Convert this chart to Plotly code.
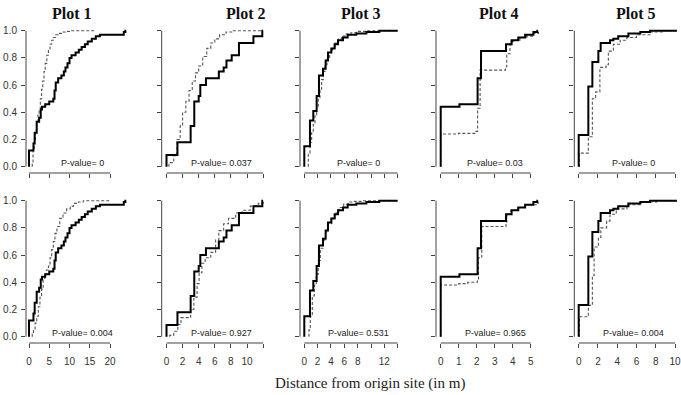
import plotly.graph_objects as go

W, H = 681, 395

# ---------------- data ----------------
titles = ["Plot 1", "Plot 2", "Plot 3", "Plot 4", "Plot 5"]
pvals_top = ["P-value= 0", "P-value= 0.037", "P-value= 0", "P-value= 0.03", "P-value= 0"]
pvals_bot = ["P-value= 0.004", "P-value= 0.927", "P-value= 0.531", "P-value= 0.965", "P-value= 0.004"]
x_ticks = [[0, 5, 10, 15, 20],
           [0, 2, 4, 6, 8, 10, 12],
           [0, 2, 4, 6, 8, 10, 12, 14],
           [0, 1, 2, 3, 4, 5],
           [0, 2, 4, 6, 8, 10]]
x_ticktext = [["0", "5", "10", "15", "20"],
              ["0", "2", "4", "6", "8", "10", ""],
              ["0", "2", "4", "6", "8", "", "12", ""],
              ["0", "1", "2", "3", "4", "5"],
              ["0", "2", "4", "6", "8", "10"]]
y_ticks = [0, 0.2, 0.4, 0.6, 0.8, 1.0]
x_end = [24.0, 12.0, 14.0, 5.4, 10.2]           # last x of observed curve
dash_end_top = [16.3, 12.0, 14.0, 5.43, 10.2]
dash_end_bot = [20.0, 12.0, 14.0, 5.4, 10.2]

# observed (solid) step curves, same in both rows
p1_obs_x = [0, 1.1, 1.4, 1.9, 2.5, 2.9, 3.2, 4.0, 5.0, 6.0, 6.3, 6.6, 7.2, 8.0, 8.6, 9.0, 9.5, 10.0, 10.5, 11.5, 12.3, 13.0, 13.8, 14.5, 15.5, 16.5, 17.5, 23.4, 23.8]
p1_obs_y = [0.12, 0.17, 0.25, 0.33, 0.36, 0.42, 0.44, 0.46, 0.48, 0.50, 0.56, 0.62, 0.65, 0.67, 0.70, 0.73, 0.76, 0.80, 0.82, 0.84, 0.86, 0.88, 0.90, 0.92, 0.94, 0.96, 0.97, 0.99, 1.0]
p2_obs_x = [0, 1.36, 3.0, 3.45, 4.0, 4.2, 4.9, 6.5, 7.1, 7.45, 8.1, 9.0, 10.8, 11.9]
p2_obs_y = [0.086, 0.18, 0.30, 0.48, 0.52, 0.60, 0.65, 0.70, 0.73, 0.78, 0.82, 0.91, 0.96, 1.0]
p3_obs_x = [0, 0.85, 1.35, 1.85, 2.2, 2.8, 3.2, 3.55, 4.05, 4.55, 5.05, 5.8, 6.5, 7.8, 9.3, 11.25]
p3_obs_y = [0.15, 0.34, 0.41, 0.52, 0.67, 0.72, 0.78, 0.84, 0.87, 0.90, 0.93, 0.95, 0.97, 0.98, 0.99, 1.0]
p4_obs_x = [0, 1.04, 2.05, 2.24, 3.63, 3.94, 4.31, 4.69, 5.15, 5.37]
p4_obs_y = [0.44, 0.46, 0.65, 0.85, 0.90, 0.93, 0.95, 0.97, 0.99, 1.0]
p5_obs_x = [0, 1.0, 1.42, 2.04, 2.28, 3.25, 3.6, 4.1, 5.16, 6.4, 7.4]
p5_obs_y = [0.233, 0.59, 0.77, 0.85, 0.91, 0.93, 0.94, 0.96, 0.98, 0.99, 1.0]

# null-model (dashed) curves, top row
p1_top_x = [0.8, 1.0, 1.3, 1.6, 1.9, 2.2, 2.5, 2.8, 3.1, 3.4, 3.7, 4.0, 4.4, 4.8, 5.2, 5.6, 6.0, 6.6, 7.2, 8.0, 9.0, 10.0]
p1_top_y = [0.03, 0.12, 0.2, 0.27, 0.33, 0.38, 0.42, 0.5, 0.57, 0.63, 0.7, 0.76, 0.82, 0.86, 0.9, 0.93, 0.95, 0.97, 0.98, 0.99, 0.995, 1.0]
p2_top_x = [0.3, 0.9, 1.3, 1.7, 2.0, 2.4, 2.8, 3.2, 3.6, 4.0, 4.5, 5.0, 5.5, 6.0, 6.6, 7.4, 8.3]
p2_top_y = [0.03, 0.08, 0.2, 0.3, 0.4, 0.48, 0.56, 0.63, 0.69, 0.74, 0.81, 0.87, 0.91, 0.94, 0.97, 0.99, 1.0]
p3_top_x = [0.6, 0.85, 1.1, 1.35, 1.6, 1.85, 2.1, 2.35, 2.6, 2.85, 3.1, 3.4, 3.8, 4.2, 4.6, 5.1, 5.6, 6.3, 7.0, 7.8, 9.3]
p3_top_y = [0.1, 0.18, 0.25, 0.31, 0.38, 0.44, 0.5, 0.57, 0.64, 0.7, 0.75, 0.79, 0.84, 0.88, 0.91, 0.94, 0.96, 0.975, 0.985, 0.995, 1.0]
p4_top_x = [0, 0.98, 1.9, 2.05, 2.19, 3.6, 3.67, 3.85, 4.13, 4.4, 4.78, 5.15, 5.43]
p4_top_y = [0.24, 0.245, 0.26, 0.43, 0.71, 0.735, 0.83, 0.92, 0.93, 0.95, 0.96, 0.98, 0.99]
p5_top_x = [0.07, 1.0, 1.42, 1.76, 2.2, 2.84, 3.08, 3.6, 4.3, 5.0, 6.0, 7.4, 8.8]
p5_top_y = [0.1, 0.22, 0.5, 0.55, 0.73, 0.75, 0.85, 0.9, 0.93, 0.95, 0.97, 0.99, 1.0]

# null-model (dashed) curves, bottom row
p1_bot_x = [0.8, 1.1, 1.5, 1.9, 2.3, 2.7, 3.1, 3.5, 3.9, 4.3, 4.8, 5.2, 5.6, 6.0, 6.4, 6.9, 7.6, 8.4, 9.3, 10.2, 11.0, 12.2, 13.4]
p1_bot_y = [0.02, 0.05, 0.1, 0.15, 0.22, 0.29, 0.35, 0.42, 0.46, 0.49, 0.52, 0.58, 0.64, 0.70, 0.76, 0.81, 0.87, 0.91, 0.94, 0.96, 0.98, 0.99, 1.0]
p2_bot_x = [0.4, 0.9, 1.4, 1.8, 3.0, 3.4, 3.8, 4.05, 4.4, 4.8, 5.5, 6.1, 6.5, 7.1, 7.7, 8.6, 9.4, 10.4, 11.4, 12.0]
p2_bot_y = [0.01, 0.04, 0.09, 0.14, 0.2, 0.29, 0.39, 0.47, 0.54, 0.58, 0.62, 0.71, 0.78, 0.83, 0.87, 0.91, 0.93, 0.96, 0.98, 1.0]
p3_bot_x = [0.7, 0.9, 1.2, 1.5, 1.8, 2.1, 2.4, 2.8, 3.2, 3.6, 4.1, 4.6, 5.2, 5.9, 6.6, 7.5, 8.5]
p3_bot_y = [0.05, 0.15, 0.3, 0.38, 0.46, 0.56, 0.65, 0.71, 0.77, 0.83, 0.87, 0.91, 0.95, 0.975, 0.99, 0.995, 1.0]
p4_bot_x = [0, 1.0, 1.5, 2.04, 2.1, 2.28, 3.63, 3.67, 3.9, 4.3, 4.7, 5.4]
p4_bot_y = [0.38, 0.39, 0.40, 0.42, 0.58, 0.81, 0.83, 0.90, 0.93, 0.95, 0.97, 0.99]
p5_bot_x = [0.07, 1.0, 1.42, 1.6, 2.04, 2.3, 2.9, 3.25, 3.9, 5.0, 6.4, 8.1]
p5_bot_y = [0.147, 0.23, 0.45, 0.66, 0.73, 0.8, 0.85, 0.9, 0.94, 0.97, 0.99, 1.0]

obs = [(p1_obs_x, p1_obs_y), (p2_obs_x, p2_obs_y), (p3_obs_x, p3_obs_y), (p4_obs_x, p4_obs_y), (p5_obs_x, p5_obs_y)]
null_top = [(p1_top_x, p1_top_y), (p2_top_x, p2_top_y), (p3_top_x, p3_top_y), (p4_top_x, p4_top_y), (p5_top_x, p5_top_y)]
null_bot = [(p1_bot_x, p1_bot_y), (p2_bot_x, p2_bot_y), (p3_bot_x, p3_bot_y), (p4_bot_x, p4_bot_y), (p5_bot_x, p5_bot_y)]

# ---------------- layout geometry (pixels) ----------------
# columns: pixel of x=0, px per unit, region left, region right
cols = [(29.0, 4.05, 26.0, 130.0),
        (166.5, 8.05, 161.7, 267.0),
        (304.3, 6.67, 300.0, 402.0),
        (440.7, 18.0, 436.0, 542.0),
        (578.7, 9.63, 574.3, 680.0)]
# rows: pixel of y=0, px per unit, region top, region bottom
rows = [(166.7, 136.0, 25.0, 173.0),
        (336.7, 136.0, 195.0, 343.0)]
title_cx = [72, 246, 361, 499, 636]
pval_cx = [82, 221, 358, 495, 633]
pval_cy = [163, 333]

AX = "#444444"
SANS = "Arial, Liberation Sans, Helvetica, sans-serif"
SERIF = "Times New Roman, Liberation Serif, serif"


def step_xy(xs, ys, xend):
    X = [xs[0]] + list(xs) + [xend]
    Y = [0.0] + list(ys) + [ys[-1]]
    return X, Y


fig = go.Figure()
layout = dict(width=W, height=H, margin=dict(l=0, r=0, t=0, b=0),
              paper_bgcolor="white", plot_bgcolor="white", showlegend=False)
shapes = []
annotations = []

for r in range(2):
    y0px, sy, top, bot = rows[r]
    nulls = null_top if r == 0 else null_bot
    dend = dash_end_top if r == 0 else dash_end_bot
    for c in range(5):
        n = r * 5 + c + 1
        xa_name = "xaxis" if n == 1 else f"xaxis{n}"
        ya_name = "yaxis" if n == 1 else f"yaxis{n}"
        xr = "x" if n == 1 else f"x{n}"
        yr = "y" if n == 1 else f"y{n}"
        p0, sx, L, R = cols[c]
        layout[xa_name] = dict(domain=[L / W, R / W], range=[(L - p0) / sx, (R - p0) / sx],
                               anchor=yr, showgrid=False, zeroline=False, showline=False,
                               ticks="outside", ticklen=4, tickwidth=1, tickcolor=AX,
                               tickvals=x_ticks[c], ticktext=x_ticktext[c],
                               showticklabels=(r == 1), ticklabelstandoff=5,
                               tickfont=dict(family=SANS, size=10, color="#333333"))
        layout[ya_name] = dict(domain=[1 - bot / H, 1 - top / H],
                               range=[(y0px - bot) / sy, (y0px - top) / sy],
                               anchor=xr, showgrid=False, zeroline=False, showline=False,
                               ticks="outside", ticklen=4, tickwidth=1, tickcolor=AX,
                               tickvals=y_ticks, ticktext=[f"{v:.1f}" for v in y_ticks],
                               showticklabels=(c == 0), ticklabelstandoff=2,
                               tickfont=dict(family=SANS, size=10, color="#333333"))
        # axis lines spanning only the tick range (R style)
        shapes.append(dict(type="line", xref=f"{xr} domain", yref=yr, x0=0, x1=0, y0=0, y1=1,
                           line=dict(color=AX, width=1)))
        shapes.append(dict(type="line", xref=xr, yref=f"{yr} domain", x0=x_ticks[c][0], x1=x_ticks[c][-1],
                           y0=0, y1=0, line=dict(color=AX, width=1)))
        # curves
        dx, dy = step_xy(nulls[c][0], nulls[c][1], dend[c])
        fig.add_trace(go.Scatter(x=dx, y=dy, mode="lines", line_shape="hv",
                                 line=dict(color="#555555", width=1.1, dash="3px,2px"),
                                 xaxis=xr, yaxis=yr, hoverinfo="skip"))
        ox, oy = step_xy(obs[c][0], obs[c][1], x_end[c])
        fig.add_trace(go.Scatter(x=ox, y=oy, mode="lines", line_shape="hv",
                                 line=dict(color="black", width=2),
                                 xaxis=xr, yaxis=yr, hoverinfo="skip"))
        # p-value label
        ptxt = pvals_top[c] if r == 0 else pvals_bot[c]
        annotations.append(dict(text=ptxt, x=pval_cx[c] / W, y=1 - pval_cy[r] / H, xref="paper", yref="paper",
                                showarrow=False, xanchor="center", yanchor="middle",
                                font=dict(family=SANS, size=9, color="#222222")))

for c in range(5):
    annotations.append(dict(text=f"<b>{titles[c]}</b>", x=title_cx[c] / W, y=1 - 14 / H, xref="paper", yref="paper",
                            showarrow=False, xanchor="center", yanchor="middle",
                            font=dict(family=SERIF, size=16, color="#111111")))

annotations.append(dict(text="Distance from origin site (in m)", x=370 / W, y=1 - 383 / H,
                        xref="paper", yref="paper", showarrow=False, xanchor="center", yanchor="middle",
                        font=dict(family=SERIF, size=15, color="#222222")))

layout["shapes"] = shapes
layout["annotations"] = annotations
fig.update_layout(**layout)
fig.write_html("out.html")
